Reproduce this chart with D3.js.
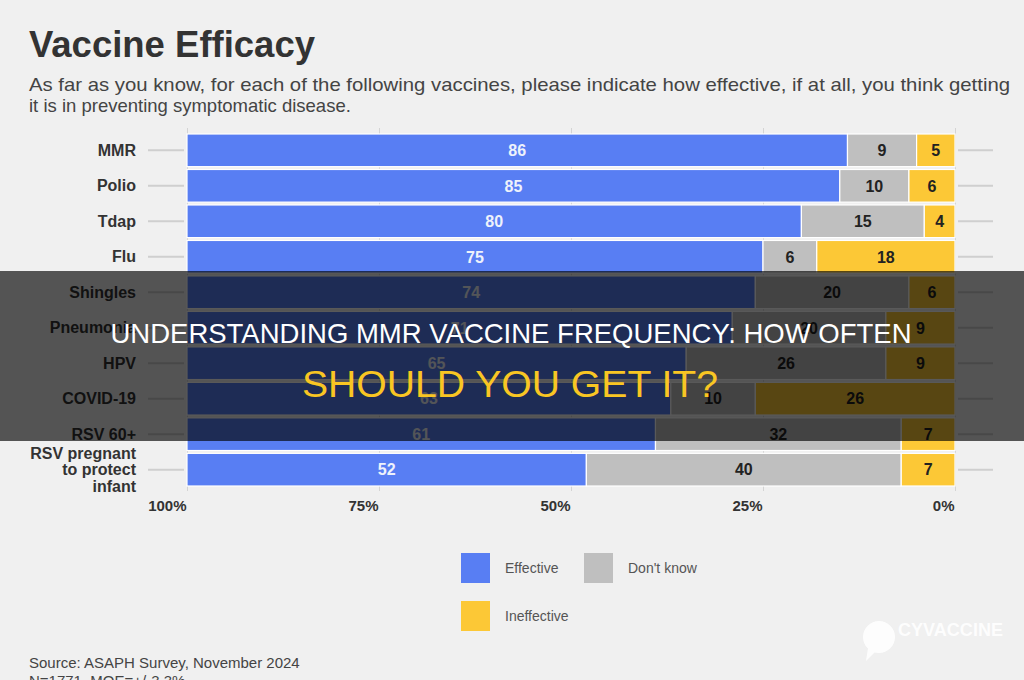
<!DOCTYPE html>
<html>
<head>
<meta charset="utf-8">
<script src="https://cdn.jsdelivr.net/npm/d3@7"></script>
<style>
  html, body { margin: 0; padding: 0; background: #f0f0f0; }
  svg { display: block; font-family: "Liberation Sans", Arial, Helvetica, sans-serif; }
</style>
</head>
<body>
<svg width="1024" height="680"></svg>
<script>
// data
const vaccines = ["MMR", "Polio", "Tdap", "Flu", "Shingles", "Pneumonia", "HPV", "COVID-19", "RSV 60+", "RSV pregnant to protect infant"];
const labelLines = [["MMR"], ["Polio"], ["Tdap"], ["Flu"], ["Shingles"], ["Pneumonia"], ["HPV"], ["COVID-19"], ["RSV 60+"], ["RSV pregnant", "to protect", "infant"]];
const effective = [86, 85, 80, 75, 74, 71, 65, 63, 61, 52];
const dontKnow = [9, 10, 15, 6, 20, 20, 26, 10, 32, 40];
const ineffective = [5, 6, 4, 18, 6, 9, 9, 26, 7, 7];
const tickValues = [100, 75, 50, 25, 0];
const legendItems = ["Effective", "Don't know", "Ineffective"];

const colors = { eff: "#587ef3", dk: "#bfbfbf", ineff: "#fcc836" };

const svg = d3.select("svg");
const width = +svg.attr("width");
const height = +svg.attr("height");

const x = d3.scaleLinear().domain([100, 0]).range([187, 955]);
const y = d3.scaleBand().domain(vaccines).range([134, 486]).paddingInner(0.08);

// header
svg.append("text")
  .attr("x", 29).attr("y", 57)
  .attr("font-size", 37).attr("font-weight", "bold").attr("fill", "#333")
  .attr("textLength", 286).attr("lengthAdjust", "spacingAndGlyphs")
  .text("Vaccine Efficacy");

svg.append("text")
  .attr("x", 29).attr("y", 91)
  .attr("font-size", 18.5).attr("fill", "#444")
  .attr("textLength", 981).attr("lengthAdjust", "spacingAndGlyphs")
  .text("As far as you know, for each of the following vaccines, please indicate how effective, if at all, you think getting");
svg.append("text")
  .attr("x", 29).attr("y", 112)
  .attr("font-size", 18.5).attr("fill", "#444")
  .text("it is in preventing symptomatic disease.");

// grid ticks behind the bars
svg.append("g")
  .attr("transform", "translate(0,128)")
  .call(d3.axisBottom(x).tickValues(tickValues).tickSize(363).tickFormat(""))
  .call(g => g.select(".domain").remove())
  .call(g => g.selectAll(".tick line").attr("stroke", "#d4d4d4"));

// row tick lines on both sides
const rows = svg.append("g");
vaccines.forEach((v, i) => {
  const cy = y(v) + y.bandwidth() / 2;
  rows.append("line").attr("x1", 148).attr("x2", 184).attr("y1", cy).attr("y2", cy)
    .attr("stroke", "#cfcfcf").attr("stroke-width", 2);
  rows.append("line").attr("x1", 958).attr("x2", 993).attr("y1", cy).attr("y2", cy)
    .attr("stroke", "#cfcfcf").attr("stroke-width", 2);

  const lines = labelLines[i];
  lines.forEach((t, j) => {
    rows.append("text")
      .attr("x", 136)
      .attr("y", cy + (j - (lines.length - 1) / 2) * 16.7)
      .attr("dy", "0.35em")
      .attr("text-anchor", "end")
      .attr("font-size", 16).attr("font-weight", "bold").attr("fill", "#333")
      .text(t);
  });
});

// segments: effective from the 100% side, ineffective from the 0% side, don't know in between
const segs = [];
vaccines.forEach((v, i) => {
  segs.push({ v, key: "eff", val: effective[i], x0: x(100), x1: x(100 - effective[i]) });
  segs.push({ v, key: "dk", val: dontKnow[i], x0: x(100 - effective[i]), x1: x(ineffective[i]) });
  segs.push({ v, key: "ineff", val: ineffective[i], x0: x(ineffective[i]), x1: x(0) });
});

const bars = svg.append("g");
bars.selectAll("rect")
  .data(segs)
  .join("rect")
  .attr("x", d => d.x0)
  .attr("y", d => y(d.v))
  .attr("width", d => d.x1 - d.x0)
  .attr("height", y.bandwidth())
  .attr("fill", d => colors[d.key])
  .attr("stroke", "#fff")
  .attr("stroke-width", 1.2);

bars.selectAll("text")
  .data(segs)
  .join("text")
  .attr("x", d => (d.x0 + d.x1) / 2)
  .attr("y", d => y(d.v) + y.bandwidth() / 2)
  .attr("dy", "0.36em")
  .attr("text-anchor", "middle")
  .attr("font-size", 16).attr("font-weight", "bold")
  .attr("fill", d => d.key === "eff" ? "#eef2fb" : "#222")
  .text(d => d.val);

// percent axis
svg.append("g")
  .attr("transform", "translate(0,497)")
  .call(d3.axisBottom(x).tickValues(tickValues).tickSize(0).tickPadding(0).tickFormat(d => d + "%"))
  .call(g => g.select(".domain").remove())
  .call(g => g.selectAll(".tick text")
    .attr("text-anchor", "end").attr("x", -1).attr("y", 0).attr("dy", "0.95em")
    .attr("font-size", 15).attr("font-weight", "bold").attr("fill", "#333")
    .attr("font-family", "Liberation Sans, Arial, sans-serif"));

// legend
const legendPos = [[461, 553], [584, 553], [461, 601]];
const legendColors = [colors.eff, colors.dk, colors.ineff];
const legend = svg.append("g");
legendItems.forEach((t, i) => {
  const [lx, ly] = legendPos[i];
  legend.append("rect").attr("x", lx).attr("y", ly).attr("width", 29).attr("height", 30)
    .attr("fill", legendColors[i]);
  legend.append("text").attr("x", lx + 44).attr("y", ly + 15).attr("dy", "0.35em")
    .attr("font-size", 14).attr("fill", "#555").text(t);
});

// source
svg.append("text").attr("x", 29).attr("y", 668)
  .attr("font-size", 15).attr("fill", "#444")
  .text("Source: ASAPH Survey, November 2024");
svg.append("text").attr("x", 29).attr("y", 686)
  .attr("font-size", 15).attr("fill", "#444")
  .text("N=1771, MOE=+/-3.3%");

// watermark
const wm = svg.append("g").attr("opacity", 0.9);
wm.append("circle").attr("cx", 879).attr("cy", 637).attr("r", 16).attr("fill", "#fff");
wm.append("path").attr("d", "M868,648 L866,661 L876,651 Z").attr("fill", "#fff");
wm.append("text").attr("x", 898).attr("y", 636)
  .attr("font-size", 19).attr("font-weight", "bold").attr("fill", "#fff")
  .attr("textLength", 105).attr("lengthAdjust", "spacingAndGlyphs")
  .text("CYVACCINE");

// dark banner with headline
svg.append("rect").attr("x", 0).attr("y", 271).attr("width", width).attr("height", 170)
  .attr("fill", "#000").attr("fill-opacity", 0.65);

svg.append("text").attr("x", 511).attr("y", 343)
  .attr("text-anchor", "middle")
  .attr("font-size", 28).attr("fill", "#fff")
  .attr("textLength", 801).attr("lengthAdjust", "spacingAndGlyphs")
  .text("UNDERSTANDING MMR VACCINE FREQUENCY: HOW OFTEN");
svg.append("text").attr("x", 510).attr("y", 397)
  .attr("text-anchor", "middle")
  .attr("font-size", 37).attr("fill", "#f9c623")
  .attr("textLength", 416).attr("lengthAdjust", "spacingAndGlyphs")
  .text("SHOULD YOU GET IT?");
</script>
</body>
</html>
